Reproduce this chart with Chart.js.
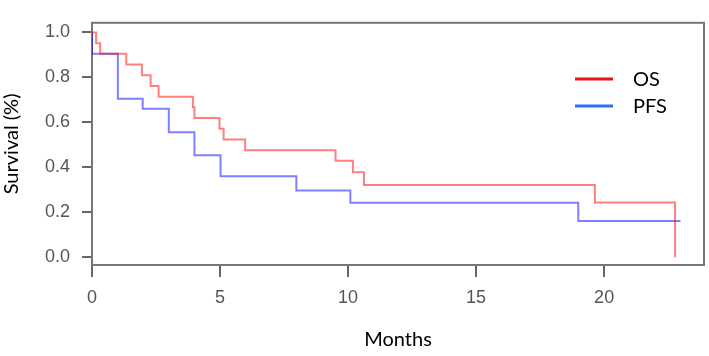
<!DOCTYPE html>
<html>
<head>
<meta charset="utf-8">
<script src="https://cdn.jsdelivr.net/npm/chart.js@4.4.1/dist/chart.umd.min.js"></script>
<style>
  html, body { margin: 0; padding: 0; background: #fff; }
</style>
</head>
<body>
<canvas id="km" width="709" height="356"></canvas>
<script>
// Kaplan-Meier steps (months, survival fraction)
const osMonths  = [0, 0.16, 0.32, 1.34, 1.95, 2.29, 2.60, 3.94, 4.00, 4.98, 5.14, 5.98, 9.51, 10.19, 10.62, 19.64, 22.77];
const osSurv    = [1.0, 0.952, 0.905, 0.857, 0.810, 0.762, 0.714, 0.667, 0.619, 0.571, 0.524, 0.476, 0.429, 0.378, 0.321, 0.243, 0.0];
const pfsMonths = [0, 0, 1.01, 1.98, 3.00, 4.00, 5.02, 7.98, 10.09, 18.99, 22.98];
const pfsSurv   = [1.0, 0.905, 0.705, 0.660, 0.556, 0.454, 0.360, 0.297, 0.242, 0.161, 0.161];

const seriesNames  = ['OS', 'PFS'];
const xTickValues  = [0, 5, 10, 15, 20];
const yTickValues  = [0, 0.2, 0.4, 0.6, 0.8, 1.0];

function toPoints(xs, ys) {
  return xs.map((x, i) => ({ x: x, y: ys[i] }));
}

const lineColors   = ['rgba(255,0,0,0.5)', 'rgba(0,0,255,0.5)'];
const legendColors = ['#ee1111', '#2f6ff0'];

// box round the plot + legend in the top right
const boxAndLegend = {
  id: 'boxAndLegend',
  beforeDatasetsDraw(chart) {
    const a = chart.chartArea, ctx = chart.ctx;
    ctx.save();
    ctx.strokeStyle = '#777';
    ctx.lineWidth = 2;
    ctx.strokeRect(a.left, a.top, a.right - a.left, a.bottom - a.top);
    ctx.restore();
  },
  afterDraw(chart) {
    const ctx = chart.ctx;
    const rows = [79, 106];
    ctx.save();
    ctx.font = '20px Lato';
    ctx.textBaseline = 'middle';
    ctx.fillStyle = '#000';
    seriesNames.forEach((name, i) => {
      ctx.strokeStyle = legendColors[i];
      ctx.lineWidth = 3;
      ctx.beginPath();
      ctx.moveTo(575, rows[i]);
      ctx.lineTo(613, rows[i]);
      ctx.stroke();
      ctx.fillText(name, 633, rows[i] + 1);
    });
    ctx.restore();
  }
};

const tickFont = { family: 'Liberation Sans', size: 18 };
const titleFont = { family: 'Lato', size: 20 };

new Chart(document.getElementById('km'), {
  type: 'line',
  data: {
    datasets: [{
      label: seriesNames[0],
      data: toPoints(osMonths, osSurv),
      borderColor: lineColors[0],
      borderWidth: 2,
      stepped: 'before',
      pointRadius: 0,
      fill: false
    }, {
      label: seriesNames[1],
      data: toPoints(pfsMonths, pfsSurv),
      borderColor: lineColors[1],
      borderWidth: 2,
      stepped: 'before',
      pointRadius: 0,
      fill: false
    }]
  },
  options: {
    responsive: false,
    animation: false,
    devicePixelRatio: 1,
    layout: { padding: { top: 7, right: 5, left: 0, bottom: 0 } },
    plugins: { legend: { display: false }, tooltip: { enabled: false } },
    scales: {
      x: {
        type: 'linear',
        min: 0,
        max: 23.9,
        afterBuildTicks: s => { s.ticks = xTickValues.map(v => ({ value: v })); },
        afterFit: s => { s.height = 91; },
        border: { display: false },
        grid: { drawOnChartArea: false, drawTicks: true, tickLength: 12, tickColor: '#666', lineWidth: 2 },
        ticks: { font: tickFont, color: '#555', padding: 10, maxRotation: 0, callback: v => String(v) },
        title: { display: true, text: 'Months', font: titleFont, color: '#000', padding: { top: 0, bottom: 4 } }
      },
      y: {
        min: -0.035,
        max: 1.043,
        afterBuildTicks: s => { s.ticks = yTickValues.map(v => ({ value: v })); },
        afterFit: s => { s.width = 92; },
        border: { display: false },
        grid: { drawOnChartArea: false, drawTicks: true, tickLength: 10, tickColor: '#666', lineWidth: 2 },
        ticks: { font: tickFont, color: '#555', padding: 12, callback: v => v.toFixed(1) },
        title: { display: true, text: 'Survival (%)', font: titleFont, color: '#000', padding: { top: 0, bottom: 0 } }
      }
    }
  },
  plugins: [boxAndLegend]
});
</script>
</body>
</html>
